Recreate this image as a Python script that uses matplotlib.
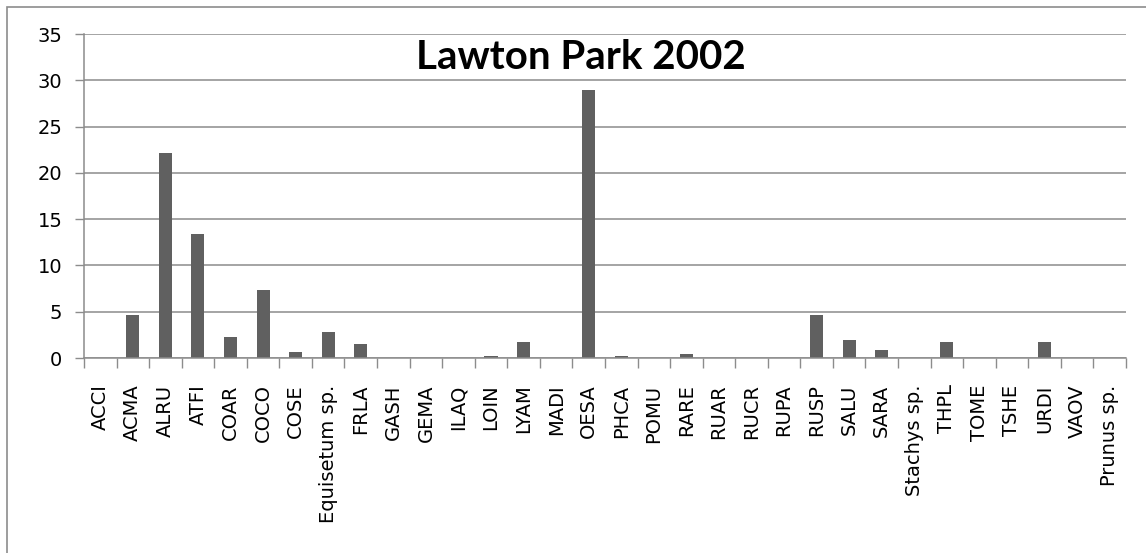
import numpy as np
import matplotlib
matplotlib.use('Agg')
import matplotlib.pyplot as plt
from matplotlib.patches import Rectangle

species = ['ACCI', 'ACMA', 'ALRU', 'ATFI', 'COAR', 'COCO', 'COSE', 'Equisetum sp.',
           'FRLA', 'GASH', 'GEMA', 'ILAQ', 'LOIN', 'LYAM', 'MADI', 'OESA', 'PHCA',
           'POMU', 'RARE', 'RUAR', 'RUCR', 'RUPA', 'RUSP', 'SALU', 'SARA',
           'Stachys sp.', 'THPL', 'TOME', 'TSHE', 'URDI', 'VAOV', 'Prunus sp.']
cover = [0, 4.6, 22.1, 13.4, 2.3, 7.3, 0.7, 2.8,
         1.5, 0, 0, 0, 0.25, 1.75, 0, 28.9, 0.25,
         0, 0.45, 0, 0, 0, 4.6, 1.9, 0.85,
         0, 1.75, 0, 0, 1.75, 0, 0]
yticks = [0, 5, 10, 15, 20, 25, 30, 35]

fig = plt.figure(figsize=(11.46, 5.53), dpi=100)
ax = fig.add_axes([0.0733, 0.3526, 0.9092, 0.5859])

# outer chart border
fig.patches.append(Rectangle((0.006, -0.02), 1.0, 1.007, transform=fig.transFigure,
                             fill=False, edgecolor='#8c8c8c', linewidth=1.2))

x = np.arange(len(species))
ax.bar(x + 0.5, cover, width=0.4, color='#606060', zorder=3)

ax.set_xlim(0, len(species))
ax.set_ylim(0, 35)
ax.set_yticks(yticks)
ax.set_xticks(np.arange(len(species) + 1))
ax.set_xticklabels([])
ax.set_xticks(x + 0.5, minor=True)
ax.set_xticklabels(species, minor=True, rotation=90, va='top', ha='center', fontsize=14)
ax.tick_params(axis='x', which='minor', length=0, pad=19)
ax.tick_params(axis='x', which='major', length=7, color='#8c8c8c', width=1)
ax.tick_params(axis='y', length=6.5, color='#8c8c8c', width=1, pad=9, labelsize=14)

ax.grid(axis='y', color='#8c8c8c', linewidth=1.1, zorder=0)
for s in ['top', 'right']:
    ax.spines[s].set_visible(False)
for s in ['left', 'bottom']:
    ax.spines[s].set_color('#8c8c8c')
    ax.spines[s].set_linewidth(1.1)
ax.spines['bottom'].set_zorder(4)

ax.text(0.477, 0.891, 'Lawton Park 2002', transform=ax.transAxes, ha='center', va='baseline',
        fontsize=29, fontweight='bold', family=['Lato', 'DejaVu Sans'], zorder=5)

plt.savefig('out.png', dpi=100)
